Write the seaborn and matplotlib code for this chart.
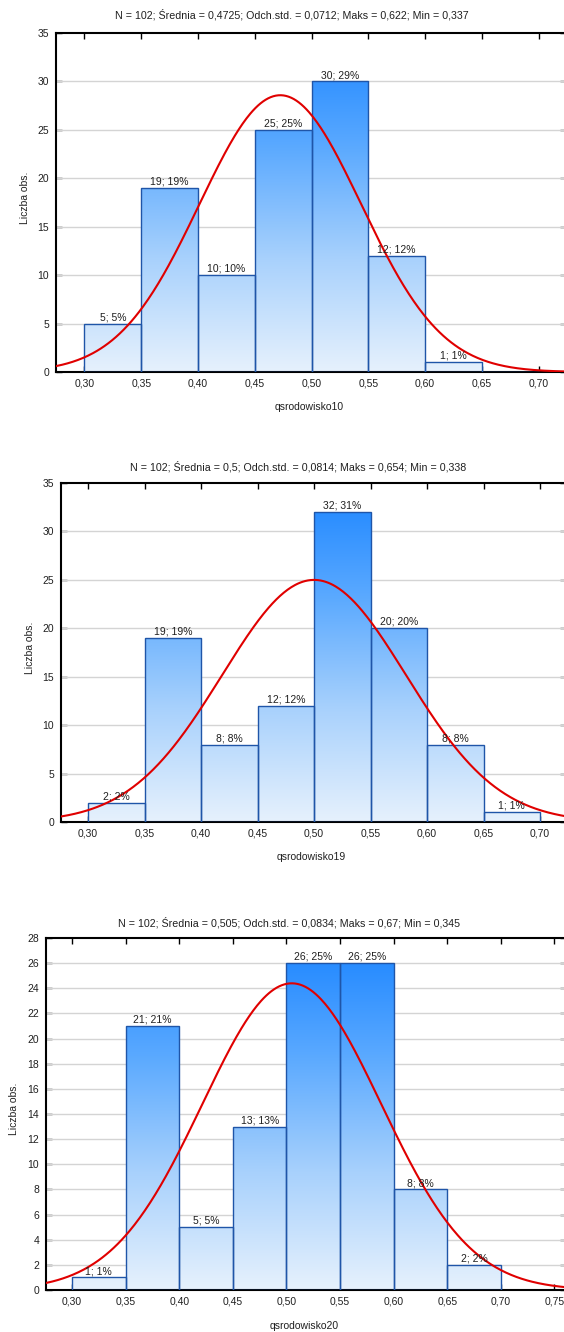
import numpy as np
import pandas as pd
import seaborn as sns
import matplotlib
matplotlib.use("Agg")
import matplotlib.pyplot as plt
from matplotlib.colors import LinearSegmentedColormap
from matplotlib.ticker import FuncFormatter, MultipleLocator

# ---------------- data ----------------
bin_edges = [0.30, 0.35, 0.40, 0.45, 0.50, 0.55, 0.60, 0.65, 0.70]
counts_10 = [5, 19, 10, 25, 30, 12, 1, 0]
counts_19 = [2, 19, 8, 12, 32, 20, 8, 1]
counts_20 = [1, 21, 5, 13, 26, 26, 8, 2]
variables = ["qsrodowisko10", "qsrodowisko19", "qsrodowisko20"]
n_obs = [102, 102, 102]
means = [0.4725, 0.5, 0.505]
stds = [0.0712, 0.0814, 0.0834]
maxs = ["0,622", "0,654", "0,67"]
mins = ["0,337", "0,338", "0,345"]
mean_txt = ["0,4725", "0,5", "0,505"]
std_txt = ["0,0712", "0,0814", "0,0834"]
ymax = [35, 35, 28]
ystep = [5, 5, 2]
all_counts = [counts_10, counts_19, counts_20]

# ---------------- style ----------------
sns.set_style("white")
plt.rcParams["font.family"] = ["Liberation Sans", "DejaVu Sans"]
plt.rcParams["font.size"] = 7.5

W, H = 564, 1332
fig = plt.figure(figsize=(W / 100, H / 100), dpi=100)
fig.patch.set_facecolor("white")

# layout in pixels: left, top, right, bottom, xlim
layout = [
    (56, 33, 566, 372, (0.2749, 0.7242)),
    (61, 483, 566, 822, (0.2761, 0.7229)),
    (46, 938, 566, 1290, (0.2757, 0.7608)),
]
title_y = [15, 467, 923]
title_x = [292, 298, 289]
xlabel_y = [407, 857, 1326]
ylabel_x = [25, 30, 14]

cmap = LinearSegmentedColormap.from_list(
    "statgrad", ["#e6f1fd", "#a8d1fc", "#5aa9ff", "#1a84ff"])
grad = np.linspace(0, 1, 256).reshape(-1, 1)

for i in range(3):
    L, T, R, B, xl = layout[i]
    ax = fig.add_axes([L / W, 1 - B / H, (R - L) / W, (B - T) / H])
    counts = all_counts[i]
    centers = [(bin_edges[k] + bin_edges[k + 1]) / 2 for k in range(len(counts))]
    df = pd.DataFrame({"x": centers, "n": counts})
    df = df[df["n"] > 0]
    sns.histplot(data=df, x="x", weights="n", bins=bin_edges, ax=ax,
                 stat="count", element="bars", fill=True,
                 facecolor="none", edgecolor="#1f55a8", linewidth=1.0,
                 zorder=3)
    bars = [p for p in ax.patches if p.get_height() > 0]
    for p in bars:
        p.set_facecolor("none")
        p.set_edgecolor("#1f55a8")
        p.set_linewidth(1.0)
        p.set_zorder(3)
        im = ax.imshow(grad, extent=[xl[0], xl[1], 0, ymax[i]], origin="lower",
                       aspect="auto", cmap=cmap, zorder=2, interpolation="bilinear")
        im.set_clip_path(p)
        n = p.get_height()
        pct = int(round(n / n_obs[i] * 100))
        ax.text(p.get_x() + p.get_width() / 2, n + ymax[i] * 0.004,
                f"{int(n)}; {pct}%", ha="center", va="bottom",
                fontsize=7.5, color="#202020", zorder=5)

    # normal curve scaled to counts
    xs = np.linspace(xl[0], xl[1], 400)
    bw = 0.05
    ys = n_obs[i] * bw / (stds[i] * np.sqrt(2 * np.pi)) * np.exp(-0.5 * ((xs - means[i]) / stds[i]) ** 2)
    sns.lineplot(x=xs, y=ys, ax=ax, color="#e00000", linewidth=1.5, zorder=4)

    ax.set_xlim(xl)
    ax.set_ylim(0, ymax[i])
    ax.yaxis.set_major_locator(MultipleLocator(ystep[i]))
    ax.xaxis.set_major_locator(MultipleLocator(0.05))
    ax.xaxis.set_major_formatter(FuncFormatter(lambda v, p: f"{v:.2f}".replace(".", ",")))
    ax.yaxis.set_major_formatter(FuncFormatter(lambda v, p: f"{int(round(v))}"))
    for yv in np.arange(ystep[i], ymax[i], ystep[i]):
        ax.axhline(yv, color="#d4d4d4", linewidth=1.0, zorder=1)
    for s in ax.spines.values():
        s.set_visible(True)
        s.set_color("black")
        s.set_linewidth(1.5)
    ax.tick_params(direction="in", length=4, width=1, top=True, right=True,
                   bottom=True, left=True, labelsize=7.5, pad=5, colors="black",
                   labelcolor="#202020")
    ax.set_xlabel("")
    ax.set_ylabel("")
    fig.text(title_x[i] / W, 1 - title_y[i] / H,
             f"N = {n_obs[i]}; Średnia = {mean_txt[i]}; Odch.std. = {std_txt[i]}; "
             f"Maks = {maxs[i]}; Min = {mins[i]}",
             ha="center", va="center", fontsize=7.7, color="#202020")
    fig.text(((L + R) / 2 - 2) / W, 1 - xlabel_y[i] / H, variables[i],
             ha="center", va="center", fontsize=7.5, color="#202020")
    fig.text(ylabel_x[i] / W, 1 - ((T + B) / 2 - 5) / H, "Liczba obs.",
             ha="center", va="center", rotation=90, fontsize=7.5, color="#202020")

fig.savefig("out.png", dpi=100, facecolor="white")
